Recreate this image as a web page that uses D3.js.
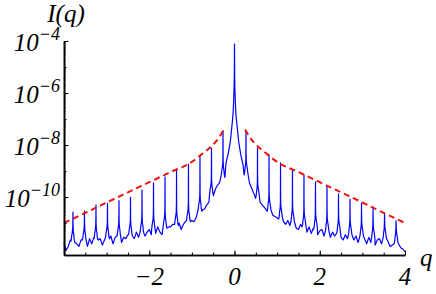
<!DOCTYPE html>
<html>
<head>
<meta charset="utf-8">
<script src="https://cdn.jsdelivr.net/npm/d3@7"></script>
<style>
body{margin:0;background:#fff;}
</style>
</head>
<body>
<div id="chart"></div>
<script>
// baseline of the measured curve, log10 I, sampled every 0.05 from q=-4 to q=4
let baseStart=-4, baseStep=0.05;
let baseLog=[
-11.75,-12.05,-11.9,-11.65,-11.85,-11.6,-11.8,-11.9,-11.65,-11.85,
-11.65,-11.9,-11.6,-11.8,-11.55,-11.85,-11.65,-11.6,-11.85,-11.65,
-11.55,-11.75,-11.5,-11.8,-11.55,-11.7,-11.45,-11.75,-11.55,-11.6,
-11.45,-11.65,-11.4,-11.6,-11.35,-11.55,-11.6,-11.3,-11.5,-11.35,
-11.25,-11.45,-11.2,-11.4,-11.15,-11.35,-11.45,-11.2,-11.35,-11.15,
-11.15,-11.05,-11.3,-11.1,-11.0,-11.25,-11.05,-10.95,-11.15,-10.95,
-10.9,-10.95,-10.8,-10.7,-10.6,-10.5,-10.45,-10.3,-10.2,-10.05,
-9.85,-9.7,-9.55,-9.45,-9.2,-9.0,-8.7,-8.35,-7.9,-7.1,
-4.1,
-7.1,-7.9,-8.4,-8.75,-8.95,-9.2,-9.45,-9.65,-9.85,-10.0,
-10.1,-10.2,-10.3,-10.4,-10.5,-10.55,-10.6,-10.7,-10.75,-10.8,
-10.85,-10.9,-10.95,-11.05,-10.9,-11.1,-11.15,-10.95,-11.2,-11.25,
-11.05,-11.3,-11.15,-11.35,-11.15,-11.4,-11.2,-11.35,-11.45,-11.3,
-11.25,-11.5,-11.3,-11.45,-11.55,-11.35,-11.5,-11.6,-11.4,-11.55,
-11.65,-11.45,-11.6,-11.7,-11.45,-11.65,-11.5,-11.75,-11.55,-11.65,
-11.6,-11.8,-11.55,-11.75,-11.6,-11.85,-11.65,-11.6,-11.8,-11.65,
-11.85,-11.7,-11.9,-11.85,-11.75,-12.0,-11.8,-11.95,-12.0,-12.1
];

// Bragg-like spikes
let spikeQ=[-3.79,-3.52,-3.25,-2.98,-2.71,-2.44,-2.17,-1.90,-1.63,-1.36,-1.08,-0.81,-0.54,-0.27,
            0.27,0.54,0.81,1.08,1.36,1.63,1.90,2.17,2.44,2.71,2.98,3.25,3.52,3.79];
let spikeTop=[-10.58,-10.54,-10.31,-10.24,-10.14,-10.01,-9.73,-9.46,-9.23,-8.96,-8.73,-8.4,-8.12,-7.45,
              -7.45,-8.12,-8.38,-8.69,-8.96,-9.15,-9.42,-9.6,-9.88,-10.08,-10.23,-10.42,-10.65,-10.92];
let spikeFoot=[-11.4,-11.35,-11.3,-11.25,-11.2,-11.15,-11.05,-10.95,-10.85,-10.75,-10.6,-10.2,-9.6,-8.9,
               -8.8,-9.7,-10.2,-10.5,-10.65,-10.8,-10.9,-11.0,-11.05,-11.15,-11.2,-11.3,-11.3,-11.45];

// central peak
let centerQ=[-0.03,-0.02,-0.01,-0.004,0,0.004,0.01,0.02,0.03];
let centerLog=[-6.7,-6.3,-5.8,-5.3,-4.12,-5.35,-5.85,-6.35,-6.75];

// red dashed envelope
let envLeftQ=[-4,-3.5,-3,-2.5,-2,-1.5,-1,-0.75,-0.5,-0.35,-0.25];
let envLeftLog=[-11.0,-10.61,-10.21,-9.82,-9.43,-9.04,-8.65,-8.33,-7.98,-7.68,-7.4];
let envRightQ=[0.25,0.35,0.5,0.75,1,1.5,2,2.5,3,3.5,4];
let envRightLog=[-7.4,-7.68,-7.98,-8.33,-8.65,-9.04,-9.43,-9.82,-10.21,-10.61,-11.0];

let xLabels=[-2,0,2,4];
let yLabels=[-4,-6,-8,-10];

let serif="Liberation Serif";
let width=436, height=294;
let svg=d3.select("#chart").append("svg").attr("width",width).attr("height",height);

let x=d3.scaleLinear().domain([-4,4]).range([64,405]);
let y=d3.scaleLog().domain([Math.pow(10,-12.23),1e-4]).range([255,41]);

// assemble the blue curve
let pts=[];
baseLog.forEach(function(v,i){
    let q=baseStart+i*baseStep;
    if(Math.abs(q)<0.035) return;
    if(spikeQ.some(function(s){return Math.abs(q-s)<0.047;})) return;
    pts.push([q,v]);
});
let profile=[[-0.045,-0.3],[-0.03,-0.1],[-0.015,0.05],[-0.006,0.2],[-0.002,0.5],[0.003,0.3],[0.01,0.05],[0.02,-0.05],[0.032,-0.25],[0.045,-0.35]];
spikeQ.forEach(function(s,i){
    let dir=s<0?1:-1;
    profile.forEach(function(p){ pts.push([s+dir*p[0], spikeFoot[i]+p[1]]); });
    pts.push([s,spikeTop[i]]);
});
centerQ.forEach(function(c,i){ pts.push([c,centerLog[i]]); });
pts.sort(function(a,b){return a[0]-b[0];});

let line=d3.line()
    .x(function(d){return x(d[0]);})
    .y(function(d){return y(Math.pow(10,d[1]));});

svg.append("path")
    .datum(pts)
    .attr("d",line)
    .attr("fill","none")
    .attr("stroke","#0000ff")
    .attr("stroke-width",1.2)
    .attr("stroke-linejoin","round");

let envLine=d3.line()
    .x(function(d){return x(d[0]);})
    .y(function(d){return y(Math.pow(10,d[1]));})
    .curve(d3.curveMonotoneX);

[[envLeftQ,envLeftLog],[envRightQ,envRightLog]].forEach(function(e){
    svg.append("path")
        .datum(e[0].map(function(q,i){return [q,e[1][i]];}))
        .attr("d",envLine)
        .attr("fill","none")
        .attr("stroke","#ee1111")
        .attr("stroke-width",2)
        .attr("stroke-dasharray","6,4");
});

// axes
let xMinor=d3.range(-4,4.001,0.5);
let xMajor=[-4,-2,0,2,4];
svg.append("g").attr("class","axis")
    .attr("transform","translate(0,255)")
    .call(d3.axisBottom(x).tickValues(xMinor).tickSizeInner(-2.5).tickSizeOuter(0).tickFormat(""));
svg.append("g").attr("class","axis")
    .attr("transform","translate(0,255)")
    .call(d3.axisBottom(x).tickValues(xMajor).tickSizeInner(-4.5).tickSizeOuter(0).tickFormat(""));

let yMinor=[];
for(let e=-13;e<=-5;e++){
    for(let m=1;m<10;m++){
        let v=m*Math.pow(10,e);
        if(v>=Math.pow(10,-12.23) && v<=1e-4) yMinor.push(v);
    }
}
let yMid=[1e-5,1e-7,1e-9,1e-11,1e-12];
let yMajor=yLabels.map(function(e){return Math.pow(10,e);});
svg.append("g").attr("class","axis")
    .attr("transform","translate(64,0)")
    .call(d3.axisLeft(y).tickValues(yMinor).tickSizeInner(-1.5).tickSizeOuter(0).tickFormat(""));
svg.append("g").attr("class","axis")
    .attr("transform","translate(64,0)")
    .call(d3.axisLeft(y).tickValues(yMid).tickSizeInner(-2.5).tickSizeOuter(0).tickFormat(""));
svg.append("g").attr("class","axis")
    .attr("transform","translate(64,0)")
    .call(d3.axisLeft(y).tickValues(yMajor).tickSizeInner(-4.5).tickSizeOuter(0).tickFormat(""));

svg.selectAll(".axis path").attr("stroke","#000").attr("stroke-width",1.4);
svg.selectAll(".axis line").attr("stroke","#000").attr("stroke-width",1);

// tick labels
xLabels.forEach(function(v){
    svg.append("text")
        .attr("x",x(v))
        .attr("y",285)
        .attr("text-anchor","middle")
        .attr("font-family",serif)
        .attr("font-style","italic")
        .attr("font-size",25)
        .text(v<0?"\u2212"+(-v):String(v));
});
yLabels.forEach(function(e){
    let t=svg.append("text")
        .attr("x",60)
        .attr("y",y(Math.pow(10,e))+10)
        .attr("text-anchor","end")
        .attr("font-family",serif)
        .attr("font-style","italic")
        .attr("font-size",25);
    t.append("tspan").text("10");
    t.append("tspan").attr("dy",-11).attr("font-size",18).text("\u2212"+(-e));
});

svg.append("text").attr("x",66).attr("y",22).attr("text-anchor","middle")
    .attr("font-family",serif).attr("font-style","italic").attr("font-size",25).text("I(q)");
svg.append("text").attr("x",420).attr("y",266)
    .attr("font-family",serif).attr("font-style","italic").attr("font-size",25).text("q");
</script>
</body>
</html>
